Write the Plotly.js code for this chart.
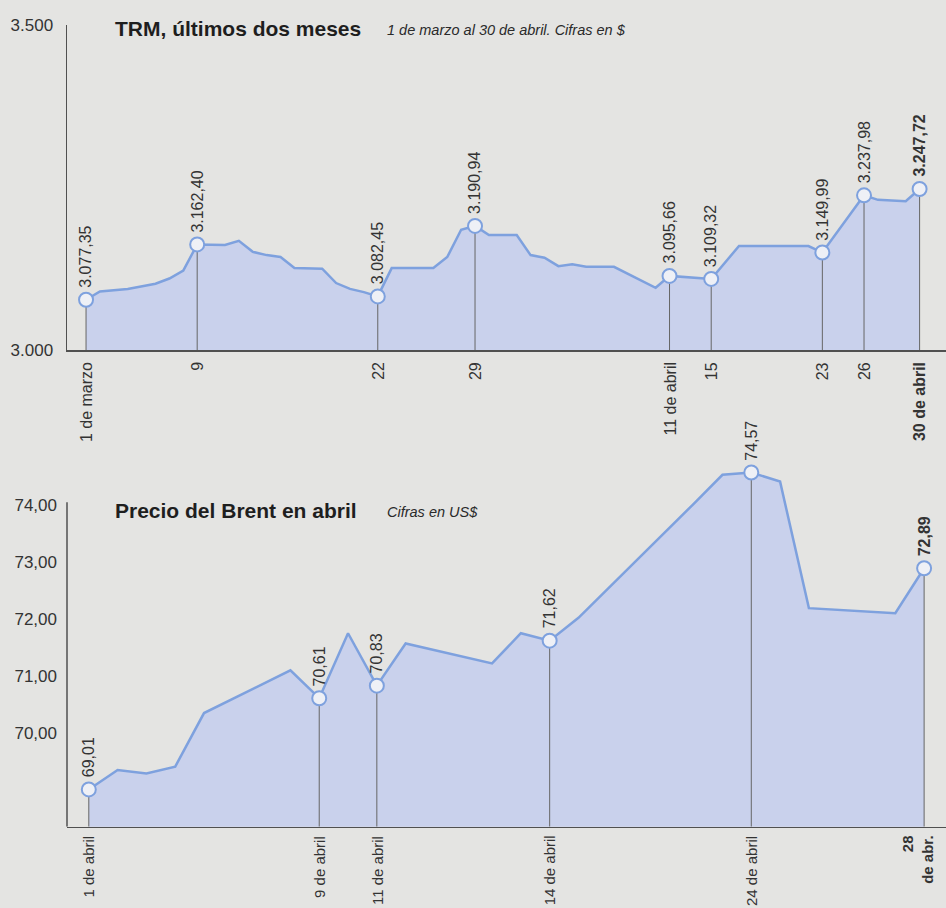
<!DOCTYPE html>
<html><head><meta charset="utf-8">
<script src="https://cdn.plot.ly/plotly-3.0.1.min.js"></script>
<style>html,body{margin:0;padding:0;background:#e4e4e2;overflow:hidden}</style>
</head><body><div id="chart" style="width:946px;height:908px"></div>
<script>
// ---- TRM (pesos por dólar), 1 de marzo al 30 de abril ----
const trmDates = ['2019-03-01','2019-03-02','2019-03-04','2019-03-06','2019-03-07','2019-03-08','2019-03-09','2019-03-11','2019-03-12','2019-03-13','2019-03-14','2019-03-15','2019-03-16','2019-03-18','2019-03-19','2019-03-20','2019-03-21','2019-03-22','2019-03-23','2019-03-26','2019-03-27','2019-03-28','2019-03-29','2019-03-30','2019-04-01','2019-04-02','2019-04-03','2019-04-04','2019-04-05','2019-04-06','2019-04-08','2019-04-11','2019-04-12','2019-04-15','2019-04-17','2019-04-22','2019-04-23','2019-04-26','2019-04-27','2019-04-29','2019-04-30'];
const trmValues = [3077.35,3090,3094,3102,3110,3122,3162.40,3161.5,3168,3151,3146,3143,3126,3125,3103,3094,3089,3082.45,3126,3126,3143,3185,3190.94,3177,3177,3146,3142,3129,3132,3128,3128,3095.66,3114,3109.32,3160,3160,3149.99,3237.98,3231,3229,3247.72];
const trmMarkDates = ['2019-03-01','2019-03-09','2019-03-22','2019-03-29','2019-04-12','2019-04-15','2019-04-23','2019-04-26','2019-04-30'];
const trmMarkLabels = ['3.077,35','3.162,40','3.082,45','3.190,94','3.095,66','3.109,32','3.149,99','3.237,98','<b>3.247,72</b>'];
const trmTickText = ['1 de marzo','9','22','29','11 de abril','15','23','26','<b>30 de abril</b>'];
const trmYTicks = [3000, 3500];
const trmYTickText = ['3.000', '3.500'];

// ---- Brent (US$), abril ----
const brentDays = [1,2,3,4,5,8,9,10,11,12,15,16,17,18,22,23,24,25,26,29,30];
const brentValues = [69.01,69.35,69.29,69.41,70.35,71.10,70.61,71.75,70.83,71.57,71.22,71.75,71.62,72.02,74.02,74.53,74.57,74.41,72.19,72.10,72.89];
const brentMarkDays = [1,9,11,17,24,30];
const brentMarkLabels = ['69,01','70,61','70,83','71,62','74,57','<b>72,89</b>'];
const brentTickText = ['1 de abril','9 de abril','11 de abril','14 de abril','24 de abril','<b>28<br>de abr.</b>'];
const brentYTicks = [70, 71, 72, 73, 74];
const brentYTickText = ['70,00', '71,00', '72,00', '73,00', '74,00'];

// ---- styles ----
const W = 946, H = 908;
const FONT = 'Liberation Sans, Arial, Helvetica, sans-serif';
const LINE = '#7ea1de', FILL = '#c9d1ec', AXIS = '#505050', TXT = '#333333';
const topRangeY = [3000, 3500];
const botRangeY = [68.356, 74.789];

function lookup(xs, ys, x) { return ys[xs.indexOf(x)]; }
const trmMarkValues = trmMarkDates.map(d => lookup(trmDates, trmValues, d));
const brentMarkValues = brentMarkDays.map(d => lookup(brentDays, brentValues, d));

function drops(xs, ys, base) {
  const X = [], Y = [];
  xs.forEach((x, i) => { X.push(x, x, null); Y.push(ys[i], base, null); });
  return {X, Y};
}
const d1 = drops(trmMarkDates, trmMarkValues, topRangeY[0]);
const d2 = drops(brentMarkDays, brentMarkValues, botRangeY[0]);

const markerStyle = {size: 14, color: '#eef0f6', line: {color: LINE, width: 2}};

const traces = [
  {x: trmDates, y: trmValues, type: 'scatter', mode: 'lines', fill: 'tozeroy', fillcolor: FILL,
   line: {color: LINE, width: 2.5}, xaxis: 'x', yaxis: 'y', hoverinfo: 'skip'},
  {x: d1.X, y: d1.Y, type: 'scatter', mode: 'lines', line: {color: '#666666', width: 1},
   xaxis: 'x', yaxis: 'y', hoverinfo: 'skip'},
  {x: trmMarkDates, y: trmMarkValues, type: 'scatter', mode: 'markers', marker: markerStyle,
   xaxis: 'x', yaxis: 'y', hoverinfo: 'skip'},
  {x: brentDays, y: brentValues, type: 'scatter', mode: 'lines', fill: 'tozeroy', fillcolor: FILL,
   line: {color: LINE, width: 2.5}, xaxis: 'x2', yaxis: 'y2', hoverinfo: 'skip'},
  {x: d2.X, y: d2.Y, type: 'scatter', mode: 'lines', line: {color: '#666666', width: 1},
   xaxis: 'x2', yaxis: 'y2', hoverinfo: 'skip'},
  {x: brentMarkDays, y: brentMarkValues, type: 'scatter', mode: 'markers', marker: markerStyle,
   xaxis: 'x2', yaxis: 'y2', hoverinfo: 'skip'}
];

const annotations = [];
// value labels
trmMarkDates.forEach((d, i) => annotations.push({x: d, y: trmMarkValues[i], xref: 'x', yref: 'y',
  text: trmMarkLabels[i], textangle: -90, xanchor: 'center', yanchor: 'bottom', yshift: 10,
  showarrow: false, font: {family: FONT, size: 16, color: TXT}}));
brentMarkDays.forEach((d, i) => annotations.push({x: d, y: brentMarkValues[i], xref: 'x2', yref: 'y2',
  text: brentMarkLabels[i], textangle: -90, xanchor: 'center', yanchor: 'bottom', yshift: 10,
  showarrow: false, font: {family: FONT, size: 16, color: TXT}}));
// x labels
const topAxisY = 1 - 350 / H, botAxisY = 1 - 826.7 / H;
trmMarkDates.forEach((d, i) => annotations.push({x: d, y: topAxisY, xref: 'x', yref: 'paper',
  text: trmTickText[i], textangle: -90, xanchor: 'center', yanchor: 'top', yshift: -10, align: 'right',
  showarrow: false, font: {family: FONT, size: 16, color: TXT}}));
brentMarkDays.forEach((d, i) => annotations.push({x: d, y: botAxisY, xref: 'x2', yref: 'paper',
  text: brentTickText[i], textangle: -90, xanchor: 'center', yanchor: 'top', yshift: -7, align: 'right',
  xshift: i === brentMarkDays.length - 1 ? -6 : 0,
  showarrow: false, font: {family: FONT, size: 15, color: TXT}}));
// titles
annotations.push({x: 113 / W, y: 1 - 29 / H, xref: 'paper', yref: 'paper', xanchor: 'left', yanchor: 'middle',
  text: '<b>TRM, últimos dos meses</b>', showarrow: false, font: {family: FONT, size: 21, color: '#1e1e1e'}});
annotations.push({x: 385 / W, y: 1 - 30 / H, xref: 'paper', yref: 'paper', xanchor: 'left', yanchor: 'middle',
  text: '<i>1 de marzo al 30 de abril. Cifras en $</i>', showarrow: false, font: {family: FONT, size: 14.5, color: '#2a2a2a'}});
annotations.push({x: 113 / W, y: 1 - 510 / H, xref: 'paper', yref: 'paper', xanchor: 'left', yanchor: 'middle',
  text: '<b>Precio del Brent en abril</b>', showarrow: false, font: {family: FONT, size: 21, color: '#1e1e1e'}});
annotations.push({x: 385 / W, y: 1 - 512 / H, xref: 'paper', yref: 'paper', xanchor: 'left', yanchor: 'middle',
  text: '<i>Cifras en US$</i>', showarrow: false, font: {family: FONT, size: 14.5, color: '#2a2a2a'}});

const axBase = {showgrid: false, zeroline: false, fixedrange: true};
const layout = {
  width: W, height: H, margin: {l: 0, r: 0, t: 0, b: 0},
  paper_bgcolor: '#e4e4e2', plot_bgcolor: 'rgba(0,0,0,0)', showlegend: false,
  xaxis: Object.assign({}, axBase, {domain: [67 / W, 1], type: 'date', anchor: 'y',
    range: ['2019-02-27 15:07', '2019-05-01 21:36'], showline: true, linecolor: AXIS, linewidth: 1.5,
    showticklabels: false, ticks: ''}),
  yaxis: Object.assign({}, axBase, {domain: [1 - 350 / H, 1 - 25 / H], anchor: 'x', range: topRangeY,
    showline: true, linecolor: AXIS, linewidth: 1.5, tickvals: trmYTicks, ticktext: trmYTickText,
    ticks: '', ticklabelstandoff: 9, tickfont: {family: FONT, size: 17, color: TXT}}),
  xaxis2: Object.assign({}, axBase, {domain: [67 / W, 1], anchor: 'y2', range: [0.243, 30.76],
    showline: true, linecolor: AXIS, linewidth: 1.5, showticklabels: false, ticks: ''}),
  yaxis2: Object.assign({}, axBase, {domain: [1 - 826.7 / H, 1 - 460 / H], anchor: 'x2', range: botRangeY,
    showline: false, tickvals: brentYTicks, ticktext: brentYTickText,
    ticks: '', ticklabelstandoff: 9, tickfont: {family: FONT, size: 17, color: TXT}}),
  shapes: [{type: 'line', xref: 'paper', yref: 'y2', x0: 67 / W, x1: 67 / W, y0: botRangeY[0], y1: 74.05,
    line: {color: AXIS, width: 1.5}}],
  annotations: annotations
};
Plotly.newPlot('chart', traces, layout, {displayModeBar: false, staticPlot: true});
</script></body></html>
